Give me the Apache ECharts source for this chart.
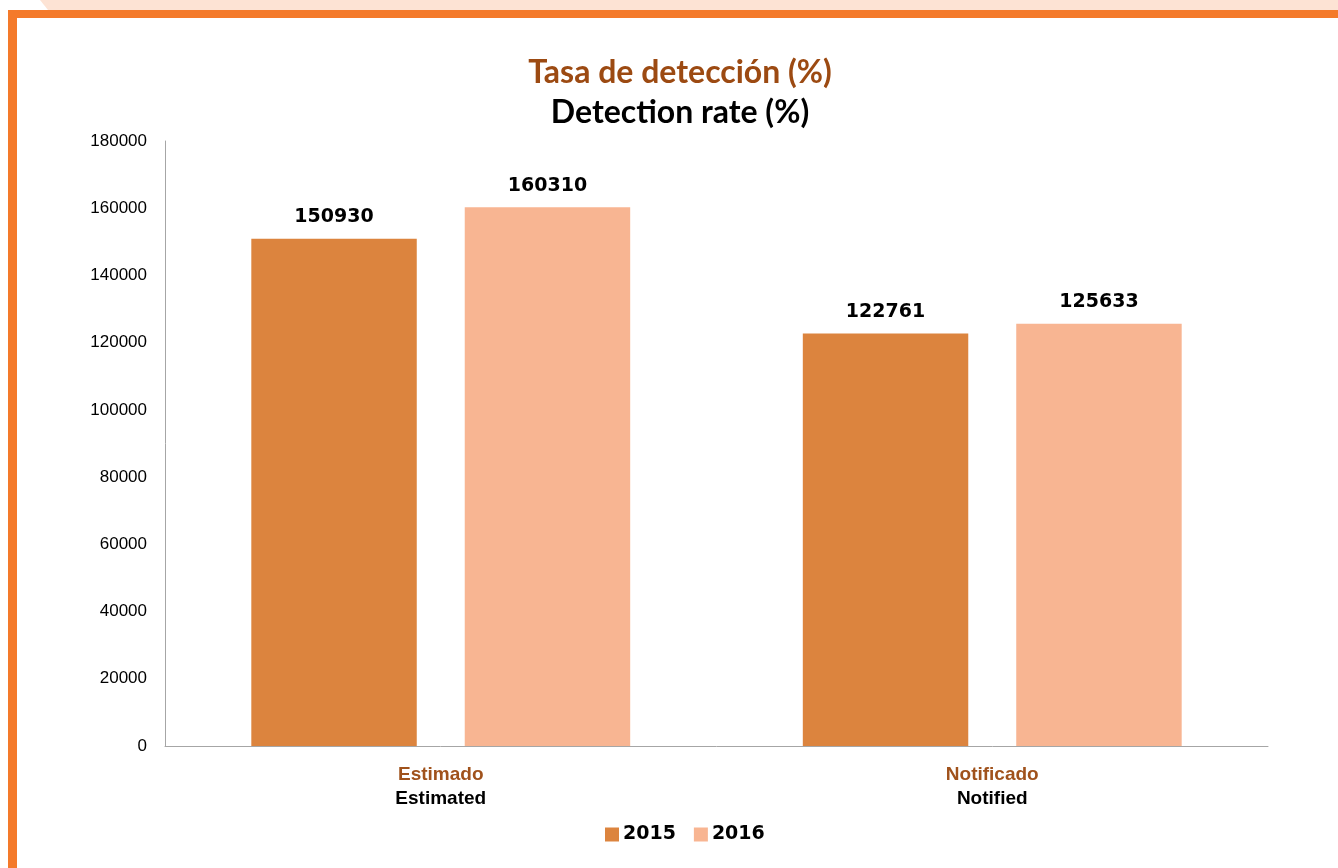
<!DOCTYPE html>
<html>
<head>
<meta charset="utf-8">
<script src="https://cdn.jsdelivr.net/npm/echarts@6/dist/echarts.min.js"></script>
<style>
  html, body { margin: 0; padding: 0; background: #fff; }
  #chart { width: 1338px; height: 868px; }
</style>
</head>
<body>
<div id="chart"></div>
<script>
// categories: spanish / english
const categoriesEs = ['Estimado', 'Notificado']
const categoriesEn = ['Estimated', 'Notified']
const seriesNames = ['2015', '2016']
const values2015 = [150930, 122761]
const values2016 = [160310, 125633]

const chart = echarts.init(document.getElementById('chart'))

// etiqueta de valor encima de cada barra
const barLabel = {
  show: true,
  position: 'top',
  distance: 12,
  fontFamily: 'DejaVu Sans',
  fontWeight: 'bold',
  fontSize: 19,
  color: '#000'
}

chart.setOption({
  animation: false,
  /* marco naranja de la diapositiva */
  graphic: [
    {
      type: 'polygon',
      shape: { points: [[40, 0], [1338, 0], [1338, 10], [48, 10]] },
      style: { fill: '#FDE3D4' }
    },
    {
      type: 'rect',
      shape: { x: 8, y: 10, width: 1330, height: 8 },
      style: { fill: '#F47A2A' }
    },
    {
      type: 'rect',
      shape: { x: 8, y: 10, width: 9, height: 858 },
      style: { fill: '#F47A2A' }
    }
  ],
  title: [
    {
      text: 'Tasa de detección (%)',
      left: 675,
      textAlign: 'center',
      top: 52,
      textStyle: { fontFamily: 'Lato', fontWeight: 'bold', fontSize: 32, color: '#9C4A12' }
    },
    {
      text: 'Detection rate (%)',
      left: 675,
      textAlign: 'center',
      top: 92,
      textStyle: { fontFamily: 'Lato', fontWeight: 'bold', fontSize: 32, color: '#000' }
    }
  ],
  legend: {
    bottom: 19,
    left: 600,
    itemWidth: 14,
    itemHeight: 14,
    itemGap: 18,
    icon: 'rect',
    textStyle: { fontFamily: 'DejaVu Sans', fontWeight: 'bold', fontSize: 19, color: '#000', padding: [0, 0, 0, -1] },
    data: seriesNames
  },
  grid: { left: 165, right: 70, top: 141, bottom: 122 },
  xAxis: {
    type: 'category',
    data: categoriesEs.map((c, i) => c + '\n' + categoriesEn[i]),
    axisLine: { lineStyle: { color: '#A6A6A6' } },
    axisTick: { show: false },
    axisLabel: {
      margin: 17,
      formatter: v => {
        const parts = v.split('\n')
        return '{es|' + parts[0] + '}\n{en|' + parts[1] + '}'
      },
      rich: {
        es: { fontFamily: 'Liberation Sans', fontWeight: 'bold', fontSize: 19, color: '#A0521C', lineHeight: 24 },
        en: { fontFamily: 'Liberation Sans', fontWeight: 'bold', fontSize: 19, color: '#000', lineHeight: 24 }
      }
    }
  },
  yAxis: {
    type: 'value',
    min: 0,
    max: 180000,
    interval: 20000,
    axisLine: { show: true, lineStyle: { color: '#A6A6A6' } },
    axisTick: { show: false },
    splitLine: { show: false },
    axisLabel: {
      margin: 18,
      fontFamily: 'Liberation Sans',
      fontSize: 17,
      color: '#000',
      formatter: v => String(v)
    }
  },
  series: [
    {
      name: '2015',
      type: 'bar',
      data: values2015,
      barWidth: '30%',
      barGap: '29%',
      itemStyle: { color: '#DC843E' },
      label: barLabel
    },
    {
      name: '2016',
      type: 'bar',
      data: values2016,
      barWidth: '30%',
      itemStyle: { color: '#F8B592' },
      label: barLabel
    }
  ]
})
</script>
</body>
</html>
